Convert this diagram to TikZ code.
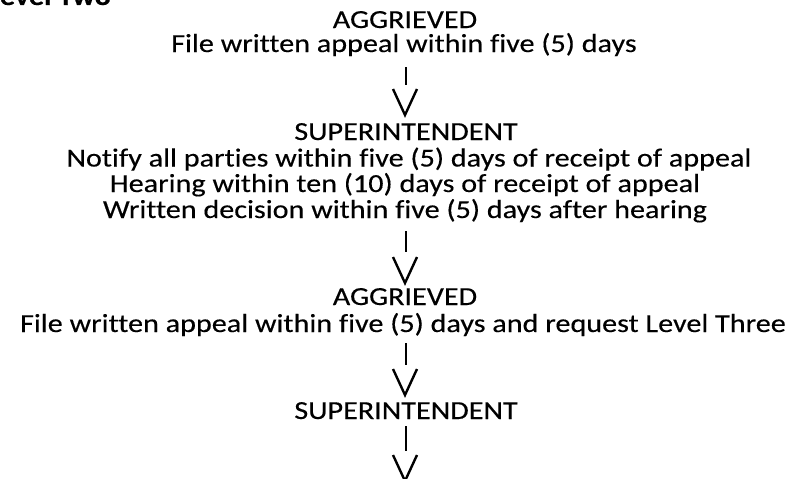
\documentclass[tikz,border=0pt]{standalone}
\usepackage{fontspec}
\setmainfont{Carlito}[FakeStretch=1.16, Ligatures=NoCommon, FakeBold=0.3]
\begin{document}
\begin{tikzpicture}[x=1pt,y=-1pt,
  txt/.style={anchor=base, inner sep=0pt, font=\fontsize{26}{26}\selectfont},
  ttl/.style={anchor=base west, inner sep=0pt, font=\bfseries\fontsize{26}{26}\selectfont},
  barline/.style={line width=2.8pt},
  veeline/.style={line width=2.4pt, line join=miter, line cap=butt}]
\useasboundingbox (0,0) rectangle (798,479);
\node[ttl] (title) at (-13,5) {Level Two};
% level two flow
\node[txt] (agg1) at (405,28) {AGGRIEVED};
\node[txt] (agg1a) at (404,52) {File written appeal within five (5) days};
\node[txt] (sup1) at (406,140) {SUPERINTENDENT};
\node[txt] (sup1a) at (409,166.5) {Notify all parties within five (5) days of receipt of appeal};
\node[txt] (sup1b) at (405,192) {Hearing within ten (10) days of receipt of appeal};
\node[txt] (sup1c) at (405,218) {Written decision within five (5) days after hearing};
\node[txt] (agg2) at (405,305) {AGGRIEVED};
\node[txt] (agg2a) at (403,332) {File written appeal within five (5) days and request Level Three};
\node[txt] (sup2) at (406,419) {SUPERINTENDENT};
% arrows
\coordinate (b1s) at (406,67);  \coordinate (b1e) at (406,85);  \coordinate (v1) at (405,115);
\coordinate (b2s) at (406,231); \coordinate (b2e) at (406,252); \coordinate (v2) at (405,283);
\coordinate (b3s) at (406,343); \coordinate (b3e) at (406,365); \coordinate (v3) at (405,395);
\coordinate (b4s) at (406,426); \coordinate (b4e) at (406,451); \coordinate (v4) at (405,481);
\foreach \i in {1,2,3,4}{
  \draw[barline] (b\i s) -- (b\i e);
  \draw[veeline] (v\i) ++(-12,-26) -- (v\i) -- ++(12,-26);
}
\end{tikzpicture}
\end{document}
